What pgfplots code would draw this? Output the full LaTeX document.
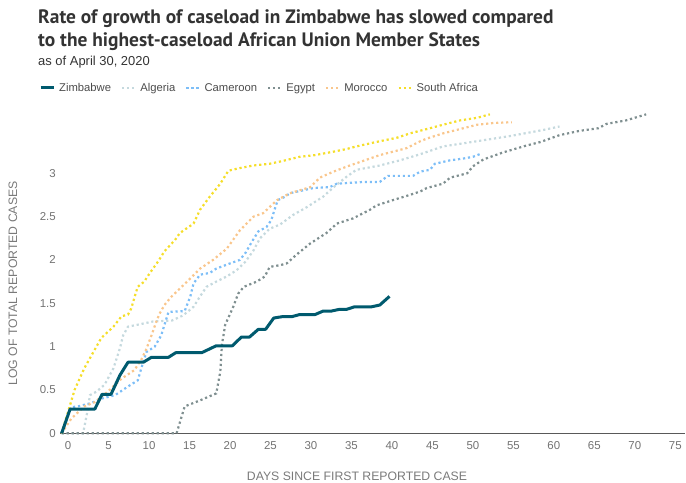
\documentclass[border=0pt]{standalone}
\usepackage{pgfplots}
\pgfplotsset{compat=1.18}
\usepackage{fontspec}
\setmainfont{Liberation Sans}
\newfontfamily\titlefont{PT Sans}
\definecolor{zim}{HTML}{005A6E}
\definecolor{alg}{HTML}{C5D9DE}
\definecolor{cam}{HTML}{7DBEF7}
\definecolor{egy}{HTML}{7F8F90}
\definecolor{mor}{HTML}{F9C68C}
\definecolor{saf}{HTML}{F5DE2A}
\definecolor{txt}{HTML}{333333}
\definecolor{lbl}{HTML}{7A7A7A}
\tikzset{dotline/.style={line width=2.2bp, dash pattern=on 2.2bp off 2.8bp, line cap=butt}}
\begin{document}
\begin{tikzpicture}
\begin{axis}[
  at={(60bp,49.7bp)}, anchor=south west,
  scale only axis, width=625bp, height=325bp,
  xmin=-1, xmax=76.2, ymin=0, ymax=3.75,
  axis lines*=left,
  y axis line style={draw=none},
  x axis line style={draw=black!65, line width=1.1bp},
  major tick length=0pt,
  xtick={0,5,...,75}, ytick={0,0.5,1,1.5,2,2.5,3},
  /pgf/number format/assume math mode=true,
  tick label style={font=\fontsize{11.5}{14}\selectfont, color=black!55, inner sep=0pt},
  xticklabel style={anchor=north, yshift=-8bp},
  yticklabel style={anchor=east, xshift=-4bp},
  clip=false,
  legend columns=6,
  legend style={at={(axis description cs:-0.0336,1.0625)}, anchor=west, draw=none, fill=none,
    inner sep=0pt, font=\fontsize{11.3}{13}\selectfont\color{black!70},
    /tikz/every odd column/.append style={column sep=2bp},
    /tikz/every even column/.append style={column sep=8bp}},
  legend image code/.code={\draw[#1] (0bp,0bp) -- (13bp,0bp);},
]
\addlegendimage{zim, line width=3bp}
\addlegendentry{Zimbabwe}
\addplot[alg, dotline] coordinates {(-0.8,0) (1.85,0) (2.3,0.21) (2.7,0.44) (3.5,0.48) (4.5,0.56) (5.6,0.75) (6.4,0.98) (6.8,1.13) (7.4,1.23) (10.5,1.29) (12.8,1.30) (14.2,1.36) (15.5,1.46) (16.3,1.58) (17.1,1.69) (18.3,1.75) (19.6,1.81) (20.8,1.88) (21.9,1.98) (22.9,2.11) (23.7,2.25) (24.9,2.36) (26.2,2.41) (27.8,2.52) (29.5,2.61) (31.5,2.73) (32.8,2.84) (34.4,2.96) (35.6,3.04) (38.5,3.09) (41,3.15) (43.5,3.22) (46.3,3.31) (50.5,3.37) (54.6,3.43) (58.7,3.5) (60.7,3.54)};
\addlegendentry{Algeria}
\addplot[cam, dotline] coordinates {(-0.8,0) (0.3,0.30) (1.2,0.31) (2.9,0.35) (4.1,0.40) (5.8,0.44) (7.4,0.54) (8.6,0.61) (9.3,0.83) (9.7,0.94) (10.7,1.0) (11.5,1.13) (11.9,1.25) (12.4,1.40) (14.4,1.41) (15.1,1.58) (15.5,1.73) (16.3,1.83) (17.5,1.85) (18.3,1.9) (20,1.96) (21.2,2.0) (21.9,2.08) (22.7,2.21) (23.5,2.33) (24.5,2.38) (25.1,2.46) (25.5,2.58) (25.9,2.69) (26.8,2.73) (27.4,2.77) (30.3,2.83) (32.3,2.84) (33.2,2.88) (36.5,2.9) (38.5,2.9) (39.5,2.97) (42.6,2.97) (43.5,3.02) (44.7,3.04) (45.3,3.11) (47.2,3.15) (48.8,3.17) (50,3.19) (51.1,3.23)};
\addlegendentry{Cameroon}
\addplot[egy, dotline] coordinates {(-0.8,0) (13.4,0) (14.4,0.31) (16.3,0.38) (18.3,0.46) (18.8,0.71) (19.0,1.02) (19.4,1.25) (20.4,1.46) (21.0,1.61) (21.7,1.69) (23.3,1.75) (24.3,1.81) (24.9,1.92) (26.2,1.94) (27,1.96) (28.2,2.06) (29.9,2.19) (31.9,2.31) (33.2,2.42) (35.2,2.48) (37.3,2.58) (38.1,2.63) (40.1,2.69) (42.2,2.75) (43.5,2.79) (44.3,2.83) (46.3,2.88) (47.2,2.95) (49.3,3.0) (50,3.08) (51.3,3.16) (53.7,3.24) (56.6,3.32) (58.3,3.36) (60.7,3.44) (63.2,3.49) (65.5,3.52) (66.5,3.57) (68.9,3.61) (71.4,3.68)};
\addlegendentry{Egypt}
\addplot[mor, dotline] coordinates {(-0.8,0.0) (0.4,0.17) (2,0.31) (3.3,0.36) (4.9,0.48) (6.6,0.63) (8.2,0.73) (9.1,0.86) (9.7,0.98) (10.3,1.13) (10.9,1.29) (11.3,1.38) (11.9,1.48) (12.8,1.58) (14.7,1.75) (16.3,1.9) (17.9,2.0) (19.6,2.13) (21.2,2.34) (22.9,2.5) (24.1,2.54) (25.8,2.69) (27.4,2.77) (29.9,2.84) (31.1,2.95) (32.8,3.02) (34.5,3.08) (38.5,3.21) (41.8,3.29) (43.5,3.37) (44.3,3.4) (46.3,3.46) (48.4,3.51) (50.5,3.56) (52.5,3.58) (54.8,3.59)};
\addlegendentry{Morocco}
\addplot[saf, dotline] coordinates {(-0.8,0) (0.8,0.5) (2,0.75) (2.9,0.9) (4.1,1.1) (5.6,1.23) (6.6,1.35) (7.4,1.37) (7.8,1.44) (8.3,1.6) (8.6,1.69) (9.4,1.75) (10.1,1.85) (11.1,1.98) (11.9,2.1) (13.2,2.23) (13.8,2.31) (15.5,2.42) (16.3,2.58) (17.5,2.73) (18.8,2.88) (19.8,3.03) (21.2,3.06) (22.9,3.09) (24.9,3.11) (26.4,3.14) (28.6,3.19) (30.5,3.21) (32.8,3.25) (34.4,3.28) (35.6,3.31) (38.5,3.37) (40.6,3.41) (42.2,3.46) (44.7,3.52) (46.3,3.56) (48.4,3.61) (50.5,3.64) (52.1,3.68)};
\addlegendentry{South Africa}
\addplot[zim, line width=3bp, line join=round, forget plot] coordinates {(-0.8,0) (0.25,0.28) (3.3,0.28) (4.2,0.45) (5.3,0.45) (6.4,0.67) (7.4,0.82) (9.3,0.82) (10.3,0.877) (12.4,0.877) (13.3,0.93) (16.5,0.93) (18.3,1.01) (20.3,1.01) (21.4,1.11) (22.4,1.11) (23.5,1.2) (24.4,1.2) (25.4,1.33) (26.4,1.345) (27.6,1.345) (28.6,1.37) (30.5,1.37) (31.5,1.41) (32.5,1.41) (33.5,1.43) (34.4,1.43) (35.4,1.46) (37.5,1.46) (38.5,1.48) (39.7,1.58)};
\end{axis}
\node[anchor=base west, inner sep=0pt, text=txt] at (38bp,459bp) {\titlefont\fontsize{19.5}{22}\selectfont\bfseries Rate of growth of caseload in Zimbabwe has slowed compared};
\node[anchor=base west, inner sep=0pt, text=txt] at (38bp,436bp) {\titlefont\fontsize{19.5}{22}\selectfont\bfseries to the highest-caseload African Union Member States};
\node[anchor=base west, inner sep=0pt, text=txt] at (38bp,417bp) {\fontsize{13}{15}\selectfont as of April 30, 2020};
\node[inner sep=0pt, text=lbl] at (357bp,7bp) {\fontsize{12.3}{14}\selectfont DAYS SINCE FIRST REPORTED CASE};
\node[inner sep=0pt, text=lbl, rotate=90] at (13bp,199.5bp) {\fontsize{12.3}{14}\selectfont LOG OF TOTAL REPORTED CASES};
\pgfresetboundingbox
\path (0bp,0bp) rectangle (686bp,483bp);
\end{tikzpicture}
\end{document}
